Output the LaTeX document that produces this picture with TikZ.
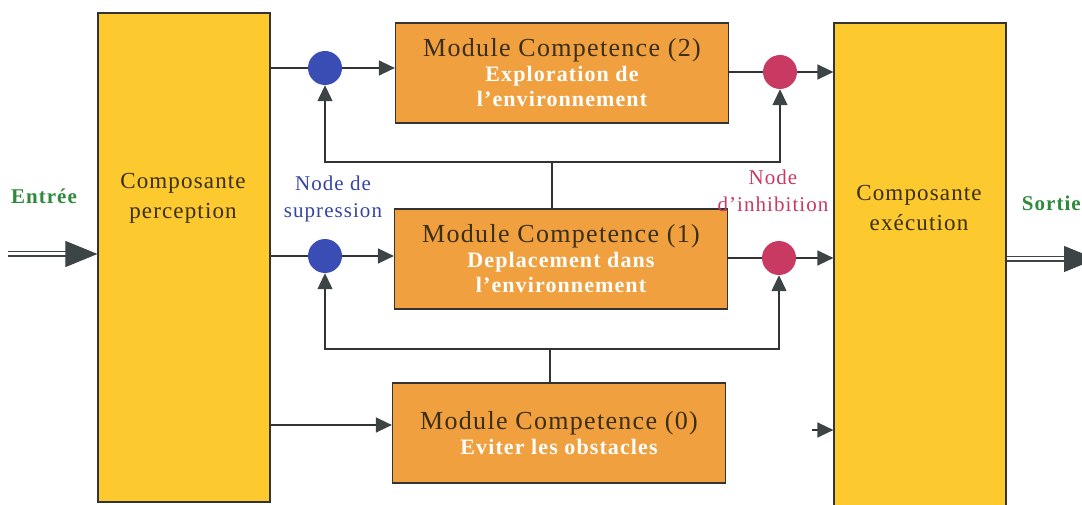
\documentclass[tikz,border=0pt]{standalone}
\usepackage{fontspec}
\setmainfont{Liberation Serif}[LetterSpace=5]
\usetikzlibrary{arrows.meta,positioning}

\definecolor{compyellow}{HTML}{FCC92F}
\definecolor{modorange}{HTML}{F0A03E}
\definecolor{supblue}{HTML}{3A4DB5}
\definecolor{inhred}{HTML}{C83A62}
\definecolor{tipgray}{HTML}{3C4446}
\definecolor{labgreen}{HTML}{2F8A3C}
\definecolor{textdark}{HTML}{3A2E14}

\newcommand{\modtitle}[1]{{\mdseries\fontsize{26}{30}\selectfont\color{textdark}Module Competence (#1)}}

\begin{document}
\begin{tikzpicture}[x=1pt,y=-1pt,
  comp/.style={draw=black!80, line width=1.2pt, fill=compyellow, minimum width=172pt, inner sep=0pt},
  module/.style={draw=black!80, line width=1.2pt, fill=modorange, minimum width=333pt, minimum height=100pt, align=center, inner sep=0pt, text=white, font=\bfseries\fontsize{22}{25}\selectfont},
  title/.style={text=textdark, align=center, font=\fontsize{23}{30}\selectfont},
  junction/.style={circle, minimum size=34pt, inner sep=0pt},
  line/.style={line width=1.3pt, draw=black!80},
  arr/.style={line, -{Triangle[length=16pt,width=15pt,color=tipgray]}},
  dbl/.style={line width=1.1pt, draw=tipgray, double=white, double distance=3pt, -{Triangle[length=32pt,width=26pt]}}]

\useasboundingbox (0,0) rectangle (1082,505);

% Draw the two components
\node[comp, minimum height=489pt] (perc) at (184,257.5) {};
\node[comp, minimum height=492pt] (exec) at (920,269) {};
\node[title] (percT) at (183,198) {Composante\\perception};
\node[title] (execT) at (919,208) {Composante\\exécution};

% Draw the competence modules
\node[module] (mod2) at (562,73) {\modtitle{2}\\Exploration de\\l'environnement};
\node[module] (mod1) at (561,259) {\modtitle{1}\\Deplacement dans\\l'environnement};
\node[module] (mod0) at (559,433) {\modtitle{0}\\Eviter les obstacles};

% Suppression and inhibition nodes
\node[junction, fill=supblue] (sup2) at (325,68) {};
\node[junction, fill=supblue] (sup1) at (325,256) {};
\node[junction, fill=inhred] (inh2) at (780,72) {};
\node[junction, fill=inhred] (inh1) at (779,258) {};

\node[align=center, text=supblue!90!black, font=\fontsize{21}{27}\selectfont] (supT) at (333,199) {Node de\\supression};
\node[align=center, text=inhred, font=\fontsize{21}{27}\selectfont] (inhT) at (773,191) {Node\\d'inhibition};

% Inputs and outputs
\coordinate (in) at (8,254);
\coordinate (out) at (1096,259);
\node[text=labgreen, font=\bfseries\fontsize{21}{25}\selectfont] (inL) at (44,196) {Entrée};
\node[text=labgreen, font=\bfseries\fontsize{21}{25}\selectfont, anchor=east, inner sep=1pt] (outL) at (1082,203) {Sortie};
\draw[dbl] (in) -- (perc.west |- in);
\draw[dbl] (exec.east |- out) -- (out);

% Forward paths
\draw[line] (perc.east |- sup2) -- (sup2);
\draw[arr] (sup2) -- (mod2.west |- sup2);
\draw[line] (perc.east |- sup1) -- (sup1);
\draw[arr] (sup1) -- (mod1.west |- sup1);
\coordinate (low) at (300,425);
\draw[arr] (perc.east |- low) -- (mod0.west |- low);
\draw[line] (mod2.east |- inh2) -- (inh2);
\draw[arr] (inh2) -- (exec.west |- inh2);
\draw[line] (mod1.east |- inh1) -- (inh1);
\draw[arr] (inh1) -- (exec.west |- inh1);
\coordinate (stub) at (812,430);
\draw[arr] (stub) -- (exec.west |- stub);

% Feedback from the lower modules
\coordinate (fb2) at (552,162);
\coordinate (fb1) at (550,349);
\draw[line] (fb2 |- mod1.north) -- (fb2);
\draw[arr] (fb2) -| (sup2.south);
\draw[arr] (fb2) -| (inh2.south);
\draw[line] (fb1 |- mod0.north) -- (fb1);
\draw[arr] (fb1) -| (sup1.south);
\draw[arr] (fb1) -| (inh1.south);

\end{tikzpicture}
\end{document}
